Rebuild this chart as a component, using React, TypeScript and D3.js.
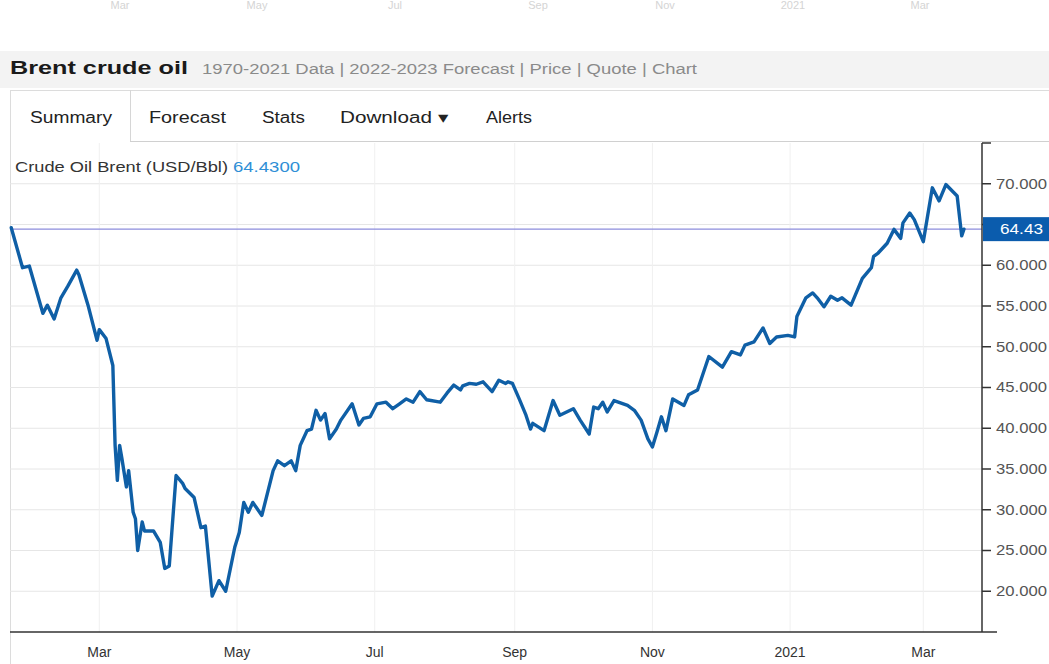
import React from 'react';
import * as d3 from 'd3';

// Brent daily close (date, USD/Bbl)
const dates = [
  '2020-01-22', '2020-01-27', '2020-01-30', '2020-02-05', '2020-02-07', '2020-02-10', '2020-02-13', '2020-02-16',
  '2020-02-20', '2020-02-21', '2020-02-25', '2020-02-29', '2020-03-01', '2020-03-04', '2020-03-07', '2020-03-08',
  '2020-03-09', '2020-03-10', '2020-03-11', '2020-03-13', '2020-03-14', '2020-03-16', '2020-03-17', '2020-03-18',
  '2020-03-20', '2020-03-21', '2020-03-25', '2020-03-28', '2020-03-30', '2020-04-01', '2020-04-04', '2020-04-07',
  '2020-04-08', '2020-04-12', '2020-04-15', '2020-04-17', '2020-04-20', '2020-04-23', '2020-04-26', '2020-04-30',
  '2020-05-02', '2020-05-04', '2020-05-06', '2020-05-08', '2020-05-12', '2020-05-17', '2020-05-19', '2020-05-22',
  '2020-05-25', '2020-05-27', '2020-05-29', '2020-06-01', '2020-06-03', '2020-06-05', '2020-06-07', '2020-06-09',
  '2020-06-11', '2020-06-14', '2020-06-16', '2020-06-21', '2020-06-24', '2020-06-26', '2020-06-29', '2020-07-02',
  '2020-07-06', '2020-07-09', '2020-07-12', '2020-07-15', '2020-07-18', '2020-07-21', '2020-07-24', '2020-07-30',
  '2020-08-02', '2020-08-05', '2020-08-08', '2020-08-09', '2020-08-12', '2020-08-15', '2020-08-18', '2020-08-22',
  '2020-08-25', '2020-08-28', '2020-08-29', '2020-08-31', '2020-09-03', '2020-09-06', '2020-09-08', '2020-09-09',
  '2020-09-14', '2020-09-18', '2020-09-21', '2020-09-27', '2020-09-30', '2020-10-04', '2020-10-06', '2020-10-08',
  '2020-10-10', '2020-10-12', '2020-10-15', '2020-10-21', '2020-10-24', '2020-10-27', '2020-10-30', '2020-11-01',
  '2020-11-03', '2020-11-05', '2020-11-07', '2020-11-10', '2020-11-15', '2020-11-17', '2020-11-21', '2020-11-26',
  '2020-12-02', '2020-12-06', '2020-12-10', '2020-12-12', '2020-12-16', '2020-12-20', '2020-12-23', '2020-12-26',
  '2020-12-31', '2021-01-03', '2021-01-04', '2021-01-08', '2021-01-11', '2021-01-13', '2021-01-16', '2021-01-19',
  '2021-01-22', '2021-01-24', '2021-01-28', '2021-02-02', '2021-02-06', '2021-02-07', '2021-02-09', '2021-02-13',
  '2021-02-16', '2021-02-19', '2021-02-20', '2021-02-23', '2021-02-25', '2021-03-01', '2021-03-05', '2021-03-08',
  '2021-03-11', '2021-03-16', '2021-03-18', '2021-03-19',
];
const prices = [
  64.6, 59.7, 59.9, 54.1, 55.1, 53.4, 56, 57.4,
  59.4, 58.8, 55.1, 50.8, 52.1, 51, 47.7, 37.9,
  33.6, 37.9, 36.3, 32.8, 34.8, 29.7, 28.9, 25,
  28.5, 27.4, 27.4, 26, 22.8, 23.1, 34.2, 33.2,
  32.6, 31.5, 27.8, 28, 19.4, 21.3, 20, 25.4,
  27.2, 30.9, 29.7, 30.9, 29.3, 34.8, 36, 35.4,
  36, 34.8, 37.9, 39.7, 39.9, 42.2, 41, 41.8,
  38.7, 39.9, 41, 43, 40.4, 41.2, 41.4, 43,
  43.2, 42.4, 43, 43.6, 43.2, 44.5, 43.5, 43.2,
  44.3, 45.3, 44.7, 45.2, 45.5, 45.4, 45.7, 44.5,
  45.9, 45.5, 45.7, 45.5, 43.6, 41.6, 39.9, 40.6,
  39.7, 43.4, 41.6, 42.4, 41, 39.3, 42.6, 42.4,
  43.2, 42, 43.4, 42.8, 42.2, 41, 38.7, 37.7,
  39.5, 41.4, 39.7, 43.6, 42.8, 44.1, 44.7, 48.8,
  47.5, 49.4, 49, 50.2, 50.6, 52.3, 50.4, 51.2,
  51.4, 51.2, 53.7, 56, 56.6, 56, 54.9, 56.2,
  55.7, 56, 55.1, 58.4, 59.7, 61.1, 61.5, 62.7,
  64.4, 63.3, 65.2, 66.4, 65.6, 62.9, 69.5, 67.9,
  69.9, 68.5, 63.6, 64.43,
];
const lastPrice = 64.43;

const yTicks = [20, 25, 30, 35, 40, 45, 50, 55, 60, 65, 70, 75];
const yLabelled = [20, 25, 30, 35, 40, 45, 50, 55, 60, 70];
const xTickDates = ['2020-03-01', '2020-05-01', '2020-07-01', '2020-09-01', '2020-11-01', '2021-01-01', '2021-03-01'];
const xTickLabels = ['Mar', 'May', 'Jul', 'Sep', 'Nov', '2021', 'Mar'];
const tabs = ['Summary', 'Forecast', 'Stats', 'Download \u25BE', 'Alerts'];
const ghostLabels = ['Mar', 'May', 'Jul', 'Sep', 'Nov', '2021', 'Mar'];

const W = 1049;
const H = 664;
const font = "'Liberation Sans', Arial, Helvetica, sans-serif";

const parse = d3.timeParse('%Y-%m-%d');

export default function App() {
  const data = dates.map((d, i) => ({ date: parse(d) as Date, value: prices[i] }));

  const plot = { left: 10, right: 982, top: 143, bottom: 632 };

  const x = d3.scaleTime()
    .domain([parse('2020-01-21') as Date, parse('2021-03-27') as Date])
    .range([9, plot.right]);
  const y = d3.scaleLinear().domain([15, 75]).range([plot.bottom, plot.top]);

  const line = d3.line<{ date: Date; value: number }>()
    .x(d => x(d.date))
    .y(d => y(d.value))
    .curve(d3.curveLinear);

  // the source picture is a little stretched sideways, so widths are pinned
  const tabX = [30, 149, 262, 340, 486];
  const tabW = [82, 77, 43, 108, 46];
  const ghostX = [120, 257, 395, 538, 665, 793, 920];
  const fmt = d3.format('.3f');
  const yLast = y(lastPrice);

  return (
    <svg width={W} height={H} style={{ position: 'fixed', left: 0, top: 0, background: '#fff' }}
      fontFamily={font}>
      {/* faint remains of the chart above */}
      {ghostLabels.map((t, i) => (
        <text key={'g' + i} x={ghostX[i]} y={9} fontSize={11} fill="#d4d4d4" textAnchor="middle">{t}</text>
      ))}

      {/* title band */}
      <rect x={0} y={51} width={W} height={37} fill="#f3f3f3" />
      <text x={10} y={74} fontSize={18} fontWeight="bold" fill="#1a1a1a" textLength={178}
        lengthAdjust="spacingAndGlyphs">Brent crude oil</text>
      <text x={202} y={74} fontSize={14} fill="#8a8a8a" textLength={495} lengthAdjust="spacingAndGlyphs">
        1970-2021 Data | 2022-2023 Forecast | Price | Quote | Chart
      </text>

      {/* tab bar */}
      <line x1={10} x2={W} y1={90.5} y2={90.5} stroke="#dcdcdc" />
      <line x1={10.5} x2={10.5} y1={90} y2={H} stroke="#dcdcdc" />
      <line x1={130.5} x2={130.5} y1={90} y2={141} stroke="#d6d6d6" />
      <line x1={130} x2={W} y1={141.5} y2={141.5} stroke="#d0d0d0" />
      {tabs.map((t, i) => (
        <text key={t} x={tabX[i]} y={123} fontSize={16} fill="#222" textLength={tabW[i]}
          lengthAdjust="spacingAndGlyphs">{t}</text>
      ))}

      {/* grid */}
      {yTicks.filter(v => v < 75).map(v => (
        <line key={'h' + v} x1={plot.left} x2={plot.right} y1={y(v)} y2={y(v)} stroke="#e6e6e6" />
      ))}
      {xTickDates.map(d => (
        <line key={'v' + d} x1={x(parse(d) as Date)} x2={x(parse(d) as Date)} y1={plot.top} y2={plot.bottom}
          stroke="#f0f0f0" />
      ))}

      <text x={15} y={172} fontSize={14} fill="#333" textLength={213} lengthAdjust="spacingAndGlyphs">
        Crude Oil Brent (USD/Bbl)
      </text>
      <text x={233} y={172} fontSize={14} fill="#2f8fd6" textLength={67} lengthAdjust="spacingAndGlyphs">
        64.4300
      </text>

      {/* last price line */}
      <line x1={plot.left} x2={plot.right} y1={yLast} y2={yLast} stroke="#8c8cdc" strokeWidth={1.2} />

      {/* series */}
      <path d={line(data) || ''} fill="none" stroke="#0f5fa6" strokeWidth={3.4} strokeLinejoin="round"
        strokeLinecap="round" />

      {/* axes */}
      <line x1={plot.right} x2={plot.right} y1={plot.top} y2={plot.bottom} stroke="#333" strokeWidth={1.5} />
      <line x1={plot.left} x2={997} y1={plot.bottom} y2={plot.bottom} stroke="#333" strokeWidth={1.5} />
      {yTicks.map(v => (
        <line key={'t' + v} x1={plot.right} x2={plot.right + 9} y1={y(v)} y2={y(v)} stroke="#333" strokeWidth={1.5} />
      ))}
      {yLabelled.map(v => (
        <text key={'l' + v} x={996} y={y(v)} dy="0.35em" fontSize={14} fill="#555" textLength={51}
          lengthAdjust="spacingAndGlyphs">{fmt(v)}</text>
      ))}
      <rect x={983} y={yLast - 12} width={W - 983} height={24} fill="#0b5cad" />
      <text x={1000} y={yLast} dy="0.35em" fontSize={14} fill="#fff" textLength={43}
        lengthAdjust="spacingAndGlyphs">{lastPrice.toFixed(2)}</text>

      {xTickDates.map((d, i) => (
        <text key={'x' + i} x={x(parse(d) as Date)} y={657} fontSize={14} fill="#333" textAnchor="middle">
          {xTickLabels[i]}
        </text>
      ))}
    </svg>
  );
}
